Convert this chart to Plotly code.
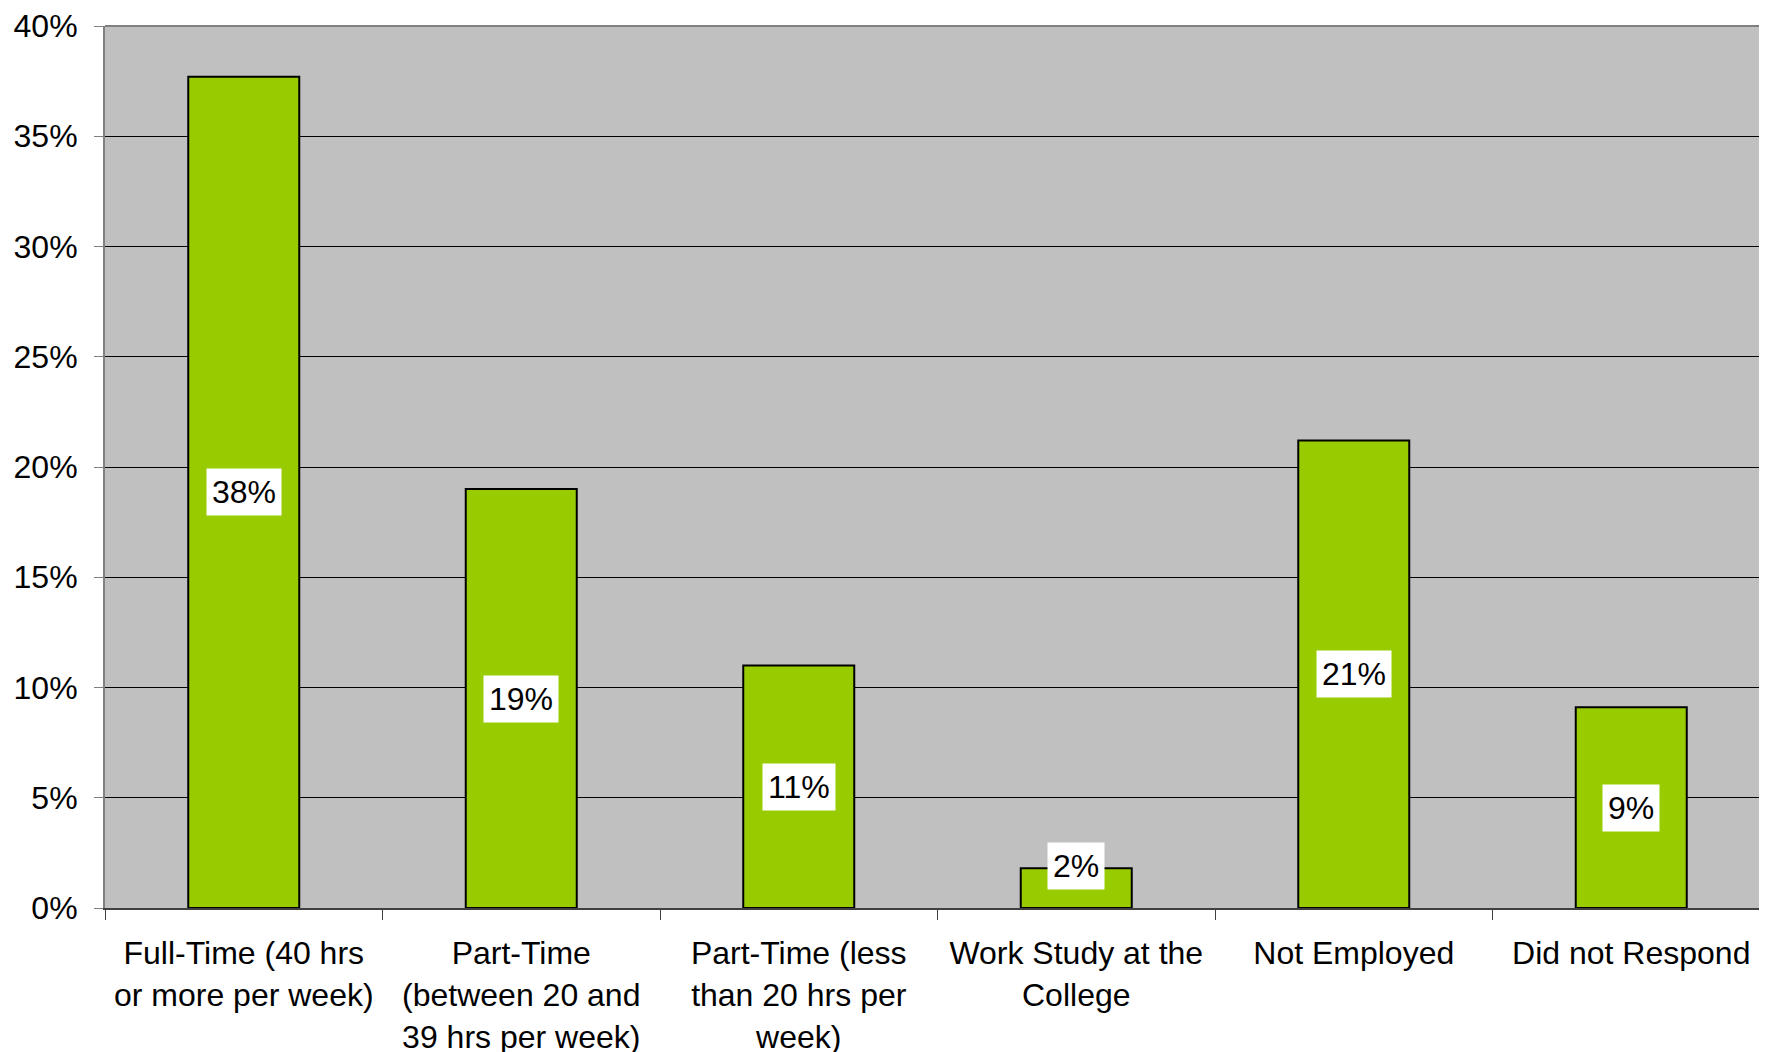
import plotly.graph_objects as go

categories = [
    "Full-Time (40 hrs<br>or more per week)",
    "Part-Time<br>(between 20 and<br>39 hrs per week)",
    "Part-Time (less<br>than 20 hrs per<br>week)",
    "Work Study at the<br>College",
    "Not Employed",
    "Did not Respond",
]
values = [0.377, 0.190, 0.110, 0.018, 0.212, 0.091]
y_ticks = [0, 0.05, 0.10, 0.15, 0.20, 0.25, 0.30, 0.35, 0.40]

FONT = "Liberation Sans, Arial, sans-serif"

fig = go.Figure()
fig.add_trace(go.Bar(
    x=categories,
    y=values,
    marker=dict(color="#99CC00", line=dict(color="#000000", width=2)),
    width=0.4,
    hoverinfo="skip",
))

for c, v in zip(categories, values):
    fig.add_annotation(
        x=c, y=max(v / 2, 0.019), xref="x", yref="y",
        text=f"{v:.0%}", showarrow=False,
        font=dict(family=FONT, size=32, color="#000000"),
        bgcolor="#FFFFFF", borderpad=5,
    )

fig.add_shape(type="line", xref="paper", yref="paper", x0=0, x1=1, y0=1, y1=1,
              line=dict(color="#808080", width=2))

fig.update_layout(
    width=1767, height=1052,
    margin=dict(l=97, r=5, t=18, b=152, autoexpand=False),
    paper_bgcolor="#FFFFFF",
    plot_bgcolor="#C0C0C0",
    showlegend=False,
    bargap=0.6,
    font=dict(family=FONT, size=32, color="#000000"),
    xaxis=dict(
        automargin=False,
        showline=True, linecolor="#404040", linewidth=2,
        ticks="outside", tickson="boundaries", ticklen=10, tickcolor="#404040", tickwidth=1,
        showgrid=False, tickangle=0,
        tickfont=dict(family=FONT, size=32, color="#000000"),
        ticklabelstandoff=16,
    ),
    yaxis=dict(
        automargin=False,
        range=[0, 0.40], tickvals=y_ticks, tickformat=".0%",
        showline=True, linecolor="#808080", linewidth=2,
        ticks="outside", ticklen=9, tickcolor="#808080", tickwidth=1,
        showgrid=True, gridcolor="#000000", gridwidth=1,
        zeroline=False,
        tickfont=dict(family=FONT, size=32, color="#000000"),
        ticklabelstandoff=10,
    ),
)

fig.write_html("out.html")
